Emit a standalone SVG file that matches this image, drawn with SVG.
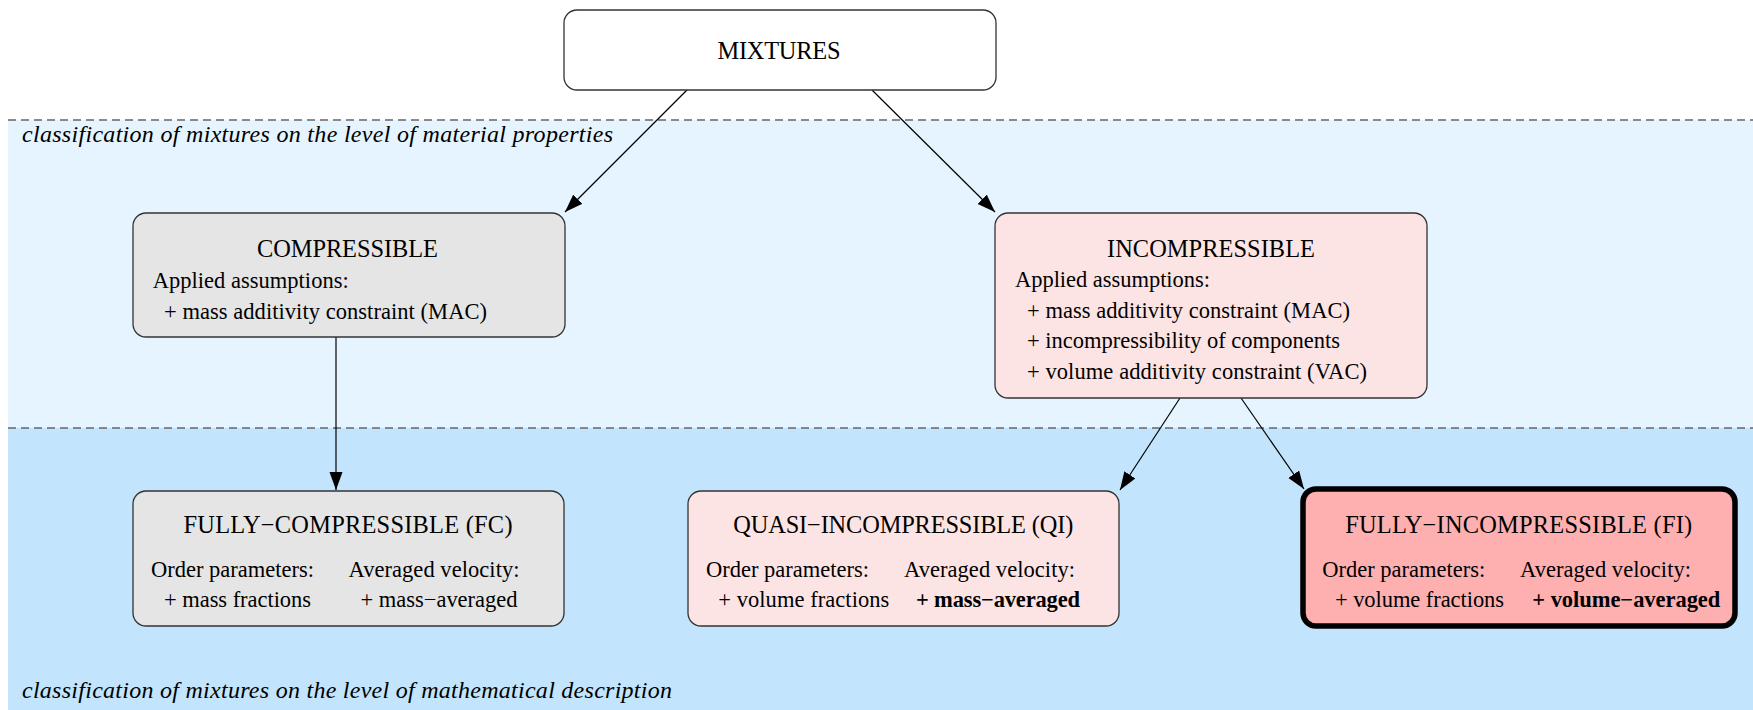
<svg xmlns="http://www.w3.org/2000/svg" width="1753" height="710" viewBox="0 0 1753 710">
<style>
text{font-family:"Liberation Serif","Times New Roman",serif;fill:#000}
.t{font-size:24.4px;text-anchor:middle}
.b{font-size:22.5px}
.bb{font-size:22.5px;font-weight:bold}
.lab{font-size:24px;font-style:italic}
.box{stroke:#333;stroke-width:1.3}
.gray{fill:#e5e5e5}
.pink{fill:#fde4e4}
.dash{stroke:#666;stroke-width:1.4;stroke-dasharray:8 5;fill:none}
.edge{stroke:#000;stroke-width:1.2;fill:none;marker-end:url(#ah)}
</style>
<defs>
<marker id="ah" markerUnits="userSpaceOnUse" markerWidth="18" markerHeight="14" refX="18" refY="6.5" orient="auto">
<path d="M0,0 L18,6.5 L0,13 z" fill="#000"/>
</marker>
</defs>
<rect width="1753" height="710" fill="#fff"/>
<g id="bands">
<rect x="8" y="120" width="1745" height="308" fill="#e5f4fe"/>
<rect x="8" y="428" width="1745" height="282" fill="#c2e5fd"/>
<line class="dash" x1="8" y1="120" x2="1753" y2="120"/>
<line class="dash" x1="8" y1="428" x2="1753" y2="428"/>
<text class="lab" x="22" y="142" textLength="591">classification of mixtures on the level of material properties</text>
<text class="lab" x="22" y="698" textLength="650">classification of mixtures on the level of mathematical description</text>
</g>
<g id="connectors">
<line class="edge" x1="687" y1="90" x2="565" y2="212"/>
<line class="edge" x1="872" y1="90" x2="995" y2="212"/>
<line class="edge" x1="336" y1="337" x2="336" y2="490"/>
<line class="edge" x1="1180" y1="398" x2="1120" y2="490"/>
<line class="edge" x1="1241" y1="398" x2="1304" y2="489"/>
</g>
<g id="mixtures">
<rect class="box" x="564" y="10" width="432" height="80" rx="13" fill="#fff"/>
<text class="t" x="779" y="59" textLength="123">MIXTURES</text>
</g>
<g id="compressible">
<rect class="box gray" x="133" y="213" width="432" height="124" rx="13"/>
<text class="t" x="347.5" y="257" textLength="181">COMPRESSIBLE</text>
<text class="b" x="152.7" y="288" textLength="196">Applied assumptions:</text>
<text class="b" x="164" y="319" textLength="323">+ mass additivity constraint (MAC)</text>
</g>
<g id="incompressible">
<rect class="box pink" x="995" y="213" width="432" height="185" rx="13"/>
<text class="t" x="1211" y="257" textLength="208">INCOMPRESSIBLE</text>
<text class="b" x="1015" y="287" textLength="195">Applied assumptions:</text>
<text class="b" x="1027" y="318" textLength="323">+ mass additivity constraint (MAC)</text>
<text class="b" x="1027" y="348" textLength="313">+ incompressibility of components</text>
<text class="b" x="1027" y="379" textLength="340">+ volume additivity constraint (VAC)</text>
</g>
<g id="fc">
<rect class="box gray" x="133" y="491" width="431" height="135" rx="13"/>
<text class="t" x="348" y="533" textLength="329">FULLY−COMPRESSIBLE (FC)</text>
<text class="b" x="151" y="577" textLength="163">Order parameters:</text>
<text class="b" x="348.5" y="577" textLength="171">Averaged velocity:</text>
<text class="b" x="164" y="607" textLength="147">+ mass fractions</text>
<text class="b" x="360.5" y="607" textLength="157">+ mass−averaged</text>
</g>
<g id="qi">
<rect class="box pink" x="688" y="491" width="431" height="135" rx="13"/>
<text class="t" x="903.3" y="533" textLength="340">QUASI−INCOMPRESSIBLE (QI)</text>
<text class="b" x="706" y="577" textLength="163">Order parameters:</text>
<text class="b" x="904" y="577" textLength="171">Averaged velocity:</text>
<text class="b" x="718.3" y="607" textLength="171">+ volume fractions</text>
<text class="bb" x="916" y="607" textLength="164">+ mass−averaged</text>
</g>
<g id="fi">
<rect x="1303" y="489" width="432" height="137" rx="13" fill="#feb0b0" stroke="#000" stroke-width="5.5"/>
<text class="t" x="1518.7" y="533" textLength="347">FULLY−INCOMPRESSIBLE (FI)</text>
<text class="b" x="1322.3" y="577" textLength="163">Order parameters:</text>
<text class="b" x="1520" y="577" textLength="171">Averaged velocity:</text>
<text class="b" x="1335" y="607" textLength="169">+ volume fractions</text>
<text class="bb" x="1532.3" y="607" textLength="188">+ volume−averaged</text>
</g>
</svg>
